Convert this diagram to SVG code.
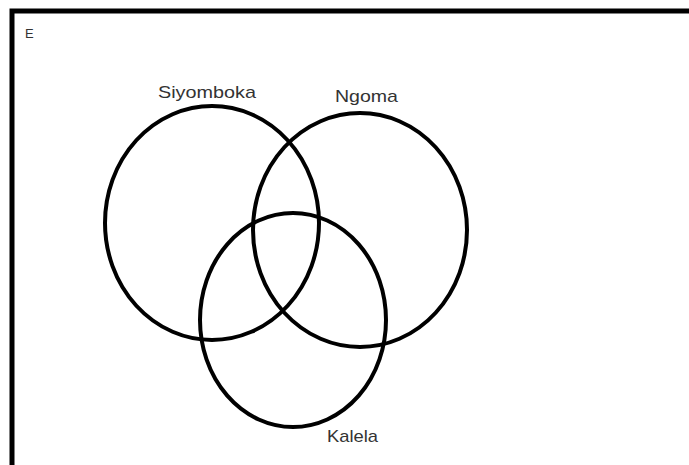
<svg xmlns="http://www.w3.org/2000/svg" width="689" height="465" viewBox="0 0 689 465">
<style>
.set{fill:none;stroke:#000;stroke-width:4}
.lbl{font-family:"Liberation Sans",Arial,sans-serif;font-size:17px;fill:#333}
</style>
<rect x="0" y="0" width="689" height="465" fill="#fff"/>
<g id="universe">
<rect x="12" y="11" width="690" height="470" fill="none" stroke="#000" stroke-width="5"/>
<text x="25" y="38" font-family="Liberation Sans, Arial, sans-serif" font-size="13" fill="#333">E</text>
</g>
<g id="siyomboka">
<ellipse class="set" cx="212" cy="223" rx="107" ry="117"/>
<text class="lbl" x="158" y="98" textLength="98" lengthAdjust="spacingAndGlyphs">Siyomboka</text>
</g>
<g id="ngoma">
<ellipse class="set" cx="360" cy="230" rx="107" ry="117"/>
<text class="lbl" x="335" y="102" textLength="63" lengthAdjust="spacingAndGlyphs">Ngoma</text>
</g>
<g id="kalela">
<ellipse class="set" cx="293" cy="320" rx="93" ry="107"/>
<text class="lbl" x="327" y="442" textLength="51" lengthAdjust="spacingAndGlyphs">Kalela</text>
</g>
<g id="connectors"></g>
</svg>
